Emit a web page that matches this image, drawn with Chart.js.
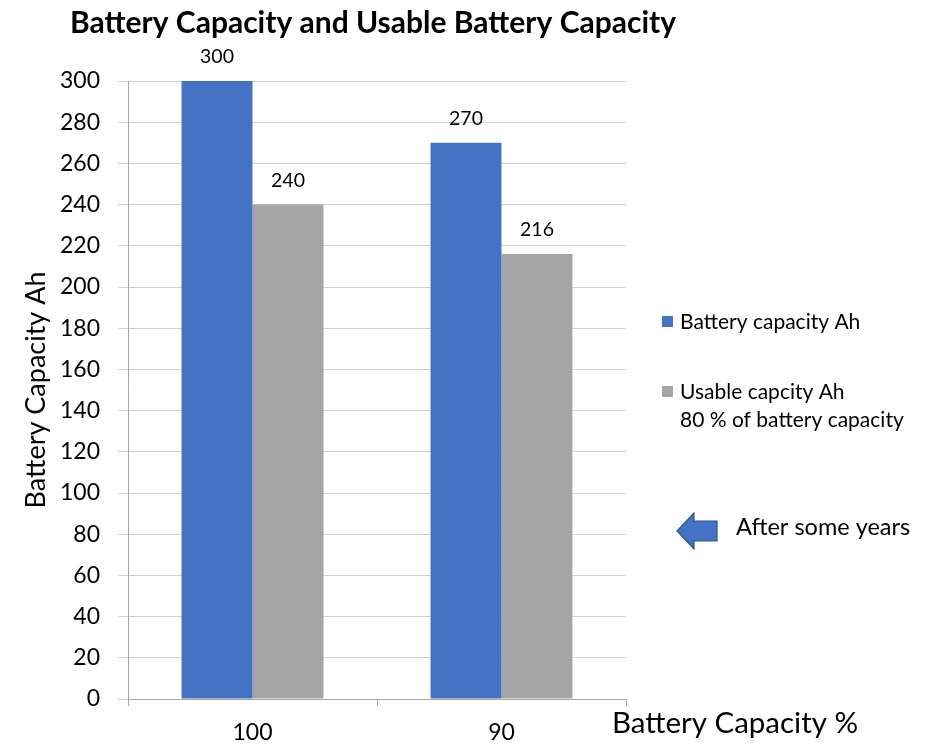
<!DOCTYPE html>
<html>
<head>
<meta charset="utf-8">
<script src="https://cdn.jsdelivr.net/npm/chart.js@4/dist/chart.umd.min.js"></script>
<style>
html,body{margin:0;padding:0;background:#fff;}
#wrap{width:933px;height:748px;}
</style>
</head>
<body>
<div id="wrap"><canvas id="c" width="933" height="748"></canvas></div>
<script>
const chartTitle = "Battery Capacity and Usable Battery Capacity";
const categories = ["100", "90"];
const batteryCapacity = [300, 270];
const usableCapacity = [240, 216];
const seriesLabels = [["Battery capacity Ah"], ["Usable capcity Ah", "80 % of battery capacity"]];
const seriesColors = ["#4472C4", "#A5A5A5"];
const yAxisTitle = "Battery Capacity Ah";
const xAxisTitle = "Battery Capacity %";
const noteText = "After some years";
const yMin = 0, yMax = 300, yStep = 20;

const FONT = "Lato, 'Open Sans', sans-serif";

const extras = {
  id: 'extras',
  afterDatasetsDraw(chart) {
    const ctx = chart.ctx;
    ctx.save();
    ctx.fillStyle = '#000';
    ctx.font = '19.5px ' + FONT;
    ctx.textAlign = 'center';
    ctx.textBaseline = 'middle';
    chart.data.datasets.forEach((ds, i) => {
      const meta = chart.getDatasetMeta(i);
      meta.data.forEach((bar, j) => {
        ctx.fillText(String(ds.data[j]), bar.x, bar.y - 24);
      });
    });
    ctx.restore();
  },
  afterDraw(chart) {
    const ctx = chart.ctx;
    const ca = chart.chartArea;
    ctx.save();
    ctx.fillStyle = '#000';
    ctx.font = 'bold 30px ' + FONT;
    ctx.textAlign = 'left';
    ctx.textBaseline = 'middle';
    ctx.fillText(chartTitle, 70, 23);
    ctx.save();
    ctx.font = '27px ' + FONT;
    ctx.translate(36, (ca.top + ca.bottom) / 2);
    ctx.rotate(-Math.PI / 2);
    ctx.textAlign = 'center';
    ctx.textBaseline = 'middle';
    ctx.fillText(yAxisTitle, 0, 0);
    ctx.restore();
    ctx.font = '29.5px ' + FONT;
    ctx.textAlign = 'left';
    ctx.textBaseline = 'middle';
    ctx.fillText(xAxisTitle, 612, 723);
    ctx.font = '21px ' + FONT;
    const legendTops = [322, 392];
    chart.data.datasets.forEach((ds, i) => {
      const cy = legendTops[i];
      ctx.fillStyle = ds.backgroundColor;
      ctx.fillRect(662, cy - 6, 11, 11);
      ctx.fillStyle = '#000';
      seriesLabels[i].forEach((line, k) => {
        ctx.fillText(line, 680, cy + k * 28);
      });
    });
    ctx.beginPath();
    const ay = 531;
    ctx.moveTo(677, ay);
    ctx.lineTo(694, ay - 18);
    ctx.lineTo(694, ay - 10);
    ctx.lineTo(717, ay - 10);
    ctx.lineTo(717, ay + 10);
    ctx.lineTo(694, ay + 10);
    ctx.lineTo(694, ay + 18);
    ctx.closePath();
    ctx.fillStyle = '#4472C4';
    ctx.fill();
    ctx.lineWidth = 1.2;
    ctx.strokeStyle = '#2F528F';
    ctx.stroke();
    ctx.fillStyle = '#000';
    ctx.font = '23.5px ' + FONT;
    ctx.fillText(noteText, 736, 527);
    ctx.restore();
  }
};

new Chart(document.getElementById('c'), {
  type: 'bar',
  data: {
    labels: categories,
    datasets: [
      { label: seriesLabels[0].join(' '), data: batteryCapacity, backgroundColor: seriesColors[0], borderWidth: 0 },
      { label: seriesLabels[1].join(' '), data: usableCapacity, backgroundColor: seriesColors[1], borderWidth: 0 }
    ]
  },
  options: {
    responsive: false,
    animation: false,
    devicePixelRatio: 1,
    layout: { padding: { top: 81, right: 307, left: 0, bottom: 0 } },
    datasets: { bar: { categoryPercentage: 0.57, barPercentage: 1.0 } },
    plugins: { legend: { display: false }, tooltip: { enabled: false }, title: { display: false } },
    scales: {
      x: {
        afterFit(s) { s.height = 49; },
        grid: { offset: true, drawOnChartArea: false, drawTicks: true, tickLength: 7, color: '#A6A6A6' },
        border: { color: '#A6A6A6', width: 1 },
        ticks: { color: '#000', font: { family: FONT, size: 23 }, padding: 13 }
      },
      y: {
        min: yMin, max: yMax,
        afterFit(s) { s.width = 128; },
        grid: { color: '#D0D0D0', tickLength: 10, drawTicks: true },
        border: { color: '#A6A6A6', width: 1 },
        ticks: { stepSize: yStep, color: '#000', font: { family: FONT, size: 23 }, padding: 18 }
      }
    }
  },
  plugins: [extras]
});
</script>
</body>
</html>
